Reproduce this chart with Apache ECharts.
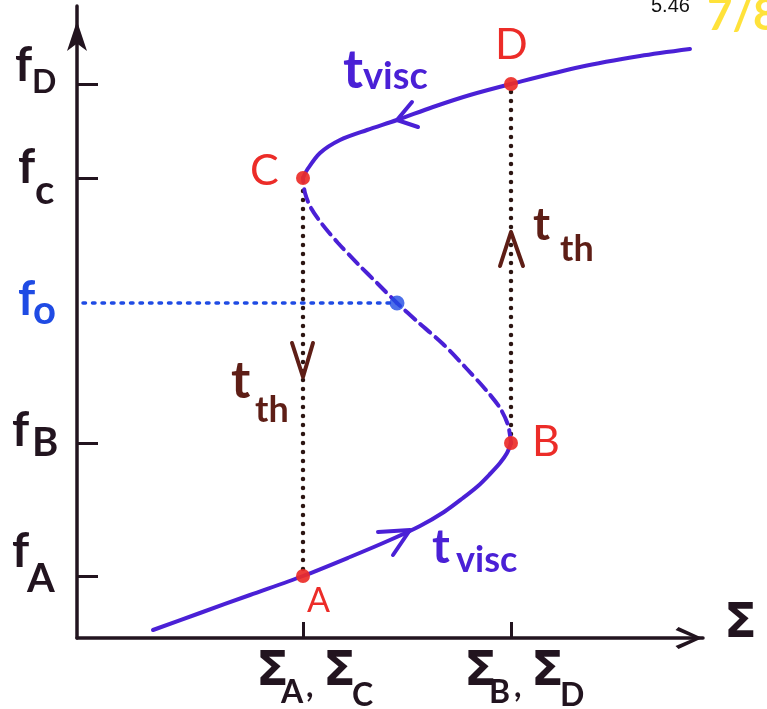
<!DOCTYPE html>
<html>
<head>
<meta charset="utf-8">
<script src="https://cdn.jsdelivr.net/npm/echarts@6/dist/echarts.min.js"></script>
<style>
  html, body { margin: 0; padding: 0; background: #ffffff; }
  #chart { width: 767px; height: 709px; }
</style>
</head>
<body>
<div id="chart"></div>
<script>
// ---- Data: S-curve of the disc instability (surface density Σ vs. f) ----
const yTickNames  = ['A', 'B', 'o', 'c', 'D'];          // subscripts of the f levels
const yTickValues = [0.62, 1.95, 3.35, 4.60, 5.54];      // f_A, f_B, f_0, f_C, f_D
const yTickWithMark = ['A', 'B', 'c', 'D'];               // levels that carry a tick
const xTickNames  = [['A', 'C'], ['B', 'D']];            // Σ_A,Σ_C  and  Σ_B,Σ_D
const xTickValues = [2.26, 4.34];

const pointNames = ['A', 'B', 'C', 'D'];
const pointX     = [2.26, 4.34, 2.26, 4.34];
const pointY     = [0.62, 1.95, 4.60, 5.54];

const equilibriumX = 3.20;
const equilibriumY = 3.35;

// lower (cold, stable) branch
const lowerBranch = [[0.76, 0.08], [1.23, 0.25], [1.73, 0.43], [2.26, 0.62], [2.73, 0.81],
  [3.13, 0.98], [3.43, 1.12], [3.67, 1.26], [3.86, 1.40], [4.01, 1.52], [4.13, 1.64],
  [4.23, 1.75], [4.30, 1.85], [4.34, 1.95]];
// middle (unstable) branch, dashed
const middleBranch = [[4.34, 1.95], [4.31, 2.13], [4.23, 2.30], [4.09, 2.48], [3.89, 2.70],
  [3.66, 2.94], [3.42, 3.15], [3.20, 3.35], [3.01, 3.54], [2.81, 3.74], [2.61, 3.95],
  [2.45, 4.14], [2.34, 4.30], [2.28, 4.45], [2.26, 4.60]];
// upper (hot, stable) branch
const upperBranch = [[2.26, 4.60], [2.30, 4.68], [2.43, 4.85], [2.63, 4.98], [2.90, 5.08],
  [3.20, 5.18], [3.56, 5.31], [3.93, 5.43], [4.34, 5.54], [5.03, 5.71], [5.63, 5.82],
  [6.13, 5.89]];

// direction chevrons along the cycle
const arrowUpperCurve = [[3.35, 5.36], [3.20, 5.18], [3.41, 5.11]];
const arrowLowerCurve = [[3.01, 1.06], [3.33, 1.08], [3.16, 0.83]];
const arrowDown       = [[2.15, 2.95], [2.26, 2.61], [2.36, 2.95]];
const arrowUp         = [[4.23, 3.72], [4.34, 4.06], [4.46, 3.72]];

// ---- Styles ----
const INK = '#22141f';
const CURVE = '#4a20d6';
const RED = '#ec2c28';
const BLUE = '#1f4be4';
const BROWN = '#5e1e16';
const DOT = '#2c1512';
const HAND = "Lato, 'DejaVu Sans', sans-serif";
const GREEK = "'DejaVu Sans', sans-serif";

const chart = echarts.init(document.getElementById('chart'), null, { renderer: 'canvas' });

function curve(data, dashed) {
  return {
    type: 'line', data, smooth: 0.3, symbol: 'none', silent: true, z: 3,
    lineStyle: { color: CURVE, width: 4, type: dashed ? [13, 7] : 'solid', cap: 'round' }
  };
}
function chevron(data, color) {
  return {
    type: 'line', data, symbol: 'none', silent: true, z: 4,
    lineStyle: { color, width: 4, cap: 'round', join: 'round' }
  };
}
function dotted(data, color, width, dash) {
  return {
    type: 'line', data, symbol: 'none', silent: true, z: 2,
    lineStyle: { color, width, type: dash, cap: 'round' }
  };
}

const iA = pointNames.indexOf('A'), iB = pointNames.indexOf('B');
const iC = pointNames.indexOf('C'), iD = pointNames.indexOf('D');

const option = {
  animation: false,
  backgroundColor: '#ffffff',
  grid: { left: 77, right: 64, top: 6, bottom: 71, containLabel: false, outerBoundsMode: 'none' },
  xAxis: {
    type: 'value', min: 0, max: 6.26,
    axisLine: {
      show: true,
      symbol: ['none', 'path://M11 0 L22 24 L19 27 L11 8 L3 27 L0 24 Z'],
      symbolSize: [22, 28], symbolOffset: [0, -14],
      lineStyle: { color: INK, width: 3.5 }
    },
    axisTick: { show: true, inside: true, length: 16, customValues: xTickValues,
      lineStyle: { color: INK, width: 3 } },
    axisLabel: { show: false, customValues: xTickValues },
    splitLine: { show: false }
  },
  yAxis: {
    type: 'value', min: 0, max: 6.32,
    axisLine: {
      show: true, symbol: ['none', 'arrow'],
      symbolSize: [15, 30], symbolOffset: [0, -15],
      lineStyle: { color: INK, width: 3.5 }
    },
    axisTick: { show: true, inside: true, length: 21,
      customValues: yTickValues.filter((v, i) => yTickWithMark.includes(yTickNames[i])),
      lineStyle: { color: INK, width: 3 } },
    axisLabel: { show: false, customValues: yTickValues },
    splitLine: { show: false }
  },
  series: [
    curve(lowerBranch, false),
    curve(middleBranch, true),
    curve(upperBranch, false),
    dotted([[0.06, equilibriumY], [equilibriumX, equilibriumY]], BLUE, 3.5, [2.5, 7]),
    dotted([[pointX[iC], pointY[iC] - 0.13], [pointX[iA], pointY[iA]]], DOT, 4.5, [0.1, 8.9]),
    dotted([[pointX[iB], pointY[iB]], [pointX[iD], pointY[iD]]], DOT, 4.5, [0.1, 8.9]),
    chevron(arrowUpperCurve, CURVE),
    chevron(arrowLowerCurve, CURVE),
    chevron(arrowDown, BROWN),
    chevron(arrowUp, BROWN),
    {
      type: 'scatter', z: 6, silent: true, symbolSize: 14,
      itemStyle: { color: RED, opacity: 0.92 },
      data: pointX.map((x, i) => [x, pointY[i]])
    },
    {
      type: 'scatter', z: 6, silent: true, symbolSize: 15,
      itemStyle: { color: BLUE },
      data: [[equilibriumX, equilibriumY]]
    }
  ]
};
chart.setOption(option);

// ---- Hand-lettered labels placed from the axis scales ----
function word(x, baseline, text, size, color, weight, family, style) {
  return {
    type: 'text', x, y: baseline - 0.36 * size, silent: true, z: 10,
    style: { text, fill: color, fontSize: size, fontWeight: weight,
      fontStyle: style || 'normal', fontFamily: family || HAND,
      align: 'left', verticalAlign: 'middle' }
  };
}
const toPx = (x, y) => chart.convertToPixel({ gridIndex: 0 }, [x, y]);
const yPx = v => chart.convertToPixel({ yAxisIndex: 0 }, v);
const xPx = v => chart.convertToPixel({ xAxisIndex: 0 }, v);

const g = [];

// f labels: [f x, f baseline offset, sub x, sub baseline offset, sub size]
const fLayout = {
  A: [12, -7, 27, 17, 40],
  B: [12, 5, 32, 14, 40],
  o: [18, 14, 33, 22, 40],
  c: [18, 7, 35, 27, 40],
  D: [15, -1, 32, 10, 32]
};
yTickNames.forEach((name, i) => {
  const ty = yPx(yTickValues[i]);
  const L = fLayout[name];
  const col = name === 'o' ? BLUE : INK;
  g.push(word(L[0], ty + L[1], 'f', 48, col, 'bold'));
  g.push(word(L[2], ty + L[3], name, L[4], col, 'bold'));
});

// Σ labels under the axis
xTickNames.forEach((pair, i) => {
  const tx = xPx(xTickValues[i]);
  g.push(word(tx - 47, 690, 'Σ', 48, INK, 'bold', GREEK));
  g.push(word(tx - 22, 704, pair[0], 32, INK, 'bold'));
  g.push(word(tx + 3, 698, ',', 32, INK, 'bold'));
  g.push(word(tx + 20, 690, 'Σ', 48, INK, 'bold', GREEK));
  g.push(word(tx + 49, 707, pair[1], 32, INK, 'bold'));
});
// axis name
g.push(word(724, 642, 'Σ', 48, INK, 'bold', GREEK));

// point names: [dx, baseline dy, size]
const pLayout = { A: [4, 37, 34], B: [21, 15, 43], C: [-53, 9, 43], D: [-16, -23, 43] };
pointNames.forEach((n, i) => {
  const p = toPx(pointX[i], pointY[i]);
  const L = pLayout[n];
  g.push(word(p[0] + L[0], p[1] + L[1], n, L[2], RED, 'normal'));
});

// timescale annotations
g.push(word(343, 90, 't', 54, CURVE, 'bold'));
g.push(word(363, 90, 'visc', 38, CURVE, 'bold'));
g.push(word(432, 565, 't', 48, CURVE, 'bold'));
g.push(word(456, 573, 'visc', 36, CURVE, 'bold'));
g.push(word(231, 400, 't', 52, BROWN, 'bold'));
g.push(word(255, 423, 'th', 36, BROWN, 'bold'));
g.push(word(533, 242, 't', 46, BROWN, 'bold'));
g.push(word(560, 262, 'th', 36, BROWN, 'bold'));

// page corner marks
g.push(word(651, 14, '5.46', 20, '#111111', 'normal', "'Liberation Sans', Arial, sans-serif"));
g.push(word(707, 32, '7/8', 44, '#ffe23a', 'bold'));

chart.setOption({ graphic: g });
</script>
</body>
</html>
